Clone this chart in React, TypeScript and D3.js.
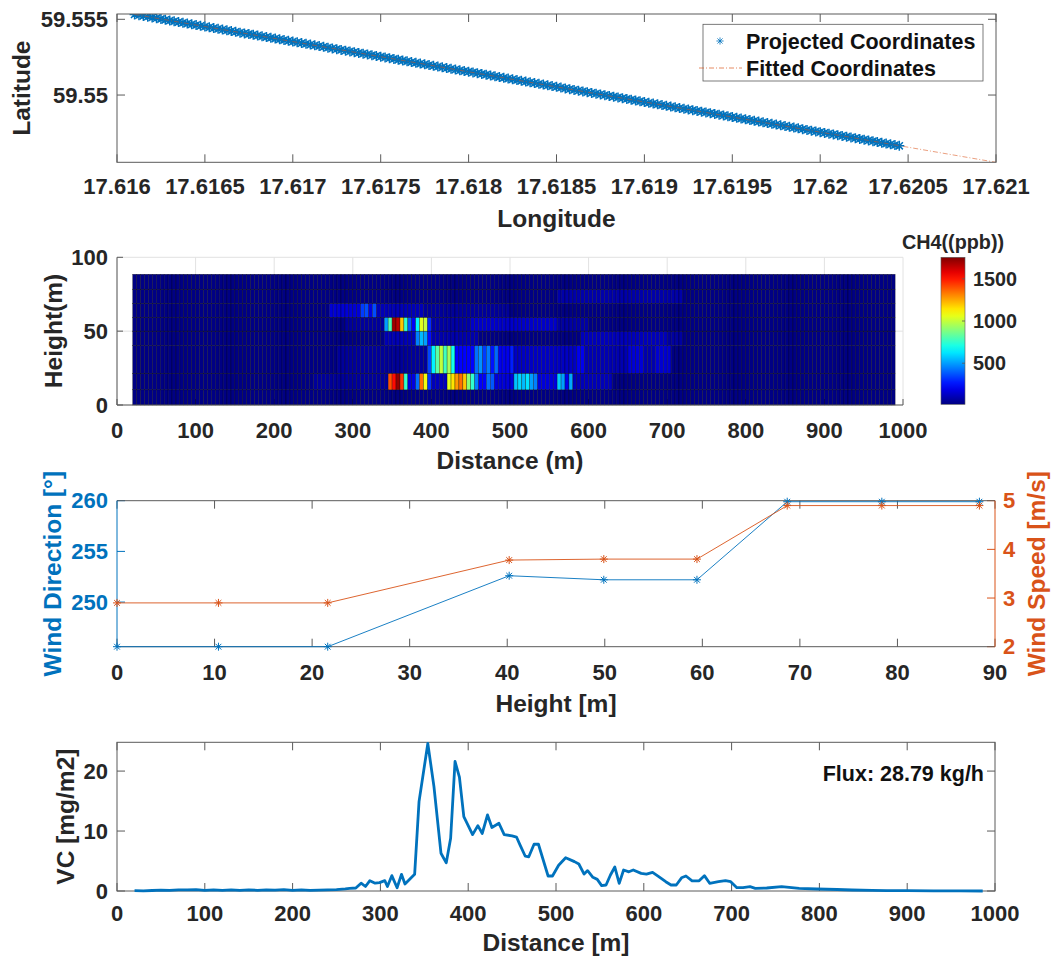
import React from 'react';
import * as d3 from 'd3';

const FONT = '"Liberation Sans", Arial, Helvetica, sans-serif';
const TXT = '#262626';
const BLUE = '#0072BD';
const ORANGE = '#D95319';
const AX = '#5a5a5a';
const TICK = 22;
const LAB = 24.5;

// ---------- Panel 1: coordinates ----------
const lonTicks = [17.616, 17.6165, 17.617, 17.6175, 17.618, 17.6185, 17.619, 17.6195, 17.62, 17.6205, 17.621];
const lonTickLabels = ['17.616', '17.6165', '17.617', '17.6175', '17.618', '17.6185', '17.619', '17.6195', '17.62', '17.6205', '17.621'];
const latTicks = [59.55, 59.555];
const latTickLabels = ['59.55', '59.555'];
// projected GPS samples (two interleaved read-outs of the dense track)
const trackLonA = [
  17.6161, 17.61615, 17.6162, 17.61625, 17.6163, 17.61635, 17.6164, 17.61645, 17.6165, 17.61655,
  17.6166, 17.61665, 17.6167, 17.61675, 17.6168, 17.61685, 17.6169, 17.61695, 17.617, 17.61705,
  17.6171, 17.61715, 17.6172, 17.61725, 17.6173, 17.61735, 17.6174, 17.61745, 17.6175, 17.61755,
  17.6176, 17.61765, 17.6177, 17.61775, 17.6178, 17.61785, 17.6179, 17.61795, 17.618, 17.61805,
  17.6181, 17.61815, 17.6182, 17.61825, 17.6183, 17.61835, 17.6184, 17.61845, 17.6185, 17.61855,
  17.6186, 17.61865, 17.6187, 17.61875, 17.6188, 17.61885, 17.6189, 17.61895, 17.619, 17.61905,
  17.6191, 17.61915, 17.6192, 17.61925, 17.6193, 17.61935, 17.6194, 17.61945, 17.6195, 17.61955,
  17.6196, 17.61965, 17.6197, 17.61975, 17.6198, 17.61985, 17.6199, 17.61995, 17.62, 17.62005,
  17.6201, 17.62015, 17.6202, 17.62025, 17.6203, 17.62035, 17.6204, 17.62045,
];
const trackLatA = [
  59.55532, 59.55522, 59.55512, 59.55502, 59.55492, 59.55482, 59.55472, 59.55462, 59.55452, 59.55442,
  59.55432, 59.55422, 59.55412, 59.55403, 59.55393, 59.55383, 59.55373, 59.55363, 59.55353, 59.55343,
  59.55333, 59.55323, 59.55313, 59.55303, 59.55293, 59.55283, 59.55273, 59.55263, 59.55253, 59.55243,
  59.55233, 59.55223, 59.55213, 59.55203, 59.55193, 59.55183, 59.55173, 59.55163, 59.55154, 59.55144,
  59.55134, 59.55124, 59.55114, 59.55104, 59.55094, 59.55084, 59.55074, 59.55064, 59.55054, 59.55044,
  59.55034, 59.55024, 59.55014, 59.55004, 59.54994, 59.54984, 59.54974, 59.54964, 59.54954, 59.54944,
  59.54934, 59.54924, 59.54914, 59.54905, 59.54895, 59.54885, 59.54875, 59.54865, 59.54855, 59.54845,
  59.54835, 59.54825, 59.54815, 59.54805, 59.54795, 59.54785, 59.54775, 59.54765, 59.54755, 59.54745,
  59.54735, 59.54725, 59.54715, 59.54705, 59.54695, 59.54685, 59.54675, 59.54665,
];
const trackLonB = [
  17.616125, 17.616175, 17.616225, 17.616275, 17.616325, 17.616375, 17.616425, 17.616475, 17.616525, 17.616575,
  17.616625, 17.616675, 17.616725, 17.616775, 17.616825, 17.616875, 17.616925, 17.616975, 17.617025, 17.617075,
  17.617125, 17.617175, 17.617225, 17.617275, 17.617325, 17.617375, 17.617425, 17.617475, 17.617525, 17.617575,
  17.617625, 17.617675, 17.617725, 17.617775, 17.617825, 17.617875, 17.617925, 17.617975, 17.618025, 17.618075,
  17.618125, 17.618175, 17.618225, 17.618275, 17.618325, 17.618375, 17.618425, 17.618475, 17.618525, 17.618575,
  17.618625, 17.618675, 17.618725, 17.618775, 17.618825, 17.618875, 17.618925, 17.618975, 17.619025, 17.619075,
  17.619125, 17.619175, 17.619225, 17.619275, 17.619325, 17.619375, 17.619425, 17.619475, 17.619525, 17.619575,
  17.619625, 17.619675, 17.619725, 17.619775, 17.619825, 17.619875, 17.619925, 17.619975, 17.620025, 17.620075,
  17.620125, 17.620175, 17.620225, 17.620275, 17.620325, 17.620375, 17.620425,
];
const trackLatB = [
  59.55527, 59.55517, 59.55507, 59.55497, 59.55487, 59.55477, 59.55467, 59.55457, 59.55447, 59.55437,
  59.55427, 59.55417, 59.55407, 59.55398, 59.55388, 59.55378, 59.55368, 59.55358, 59.55348, 59.55338,
  59.55328, 59.55318, 59.55308, 59.55298, 59.55288, 59.55278, 59.55268, 59.55258, 59.55248, 59.55238,
  59.55228, 59.55218, 59.55208, 59.55198, 59.55188, 59.55178, 59.55168, 59.55158, 59.55149, 59.55139,
  59.55129, 59.55119, 59.55109, 59.55099, 59.55089, 59.55079, 59.55069, 59.55059, 59.55049, 59.55039,
  59.55029, 59.55019, 59.55009, 59.54999, 59.54989, 59.54979, 59.54969, 59.54959, 59.54949, 59.54939,
  59.54929, 59.54919, 59.54909, 59.549, 59.5489, 59.5488, 59.5487, 59.5486, 59.5485, 59.5484,
  59.5483, 59.5482, 59.5481, 59.548, 59.5479, 59.5478, 59.5477, 59.5476, 59.5475, 59.5474,
  59.5473, 59.5472, 59.5471, 59.547, 59.5469, 59.5468, 59.5467,
];
const fitLon = [17.6161, 17.621];
const fitLat = [59.55532, 59.54556];

// ---------- Panel 2: CH4 curtain ----------
const distTicks = [0, 100, 200, 300, 400, 500, 600, 700, 800, 900, 1000];
const curtainHeightTicks = [0, 50, 100];
const curtainHeights = [0, 10.3, 21.5, 40.2, 50, 59.4, 68.8, 78.4, 88.5];
const curtainStart = 20;
const curtainEnd = 990;
const curtainStep = 5;
const ch4Background = 20;
const colorbarTicks = [500, 1000, 1500];
const ch4Range = [13, 1755];
// [row, fromDistance, toDistance, CH4 ppb]
const ch4Segments: [number, number, number, number][] = [
  [1, 250, 345, 60], [1, 345, 350, 1400], [1, 350, 355, 1520], [1, 355, 360, 1720], [1, 360, 365, 1450],
  [1, 365, 370, 750], [1, 370, 380, 180], [1, 380, 385, 420], [1, 385, 390, 1350], [1, 390, 395, 1080],
  [1, 395, 400, 320], [1, 400, 420, 120], [1, 420, 425, 1050], [1, 425, 430, 1150], [1, 430, 435, 1280],
  [1, 435, 440, 1350], [1, 440, 445, 1200], [1, 445, 450, 900], [1, 450, 455, 750], [1, 455, 460, 450],
  [1, 460, 470, 220], [1, 470, 475, 420], [1, 475, 480, 380], [1, 480, 505, 170], [1, 505, 510, 560],
  [1, 510, 515, 600], [1, 515, 520, 550], [1, 520, 525, 620], [1, 525, 530, 500], [1, 530, 535, 450],
  [1, 535, 560, 170], [1, 560, 565, 580], [1, 565, 570, 500], [1, 570, 575, 200], [1, 575, 580, 520],
  [1, 580, 630, 110],
  [2, 280, 395, 60], [2, 395, 400, 350], [2, 400, 405, 650], [2, 405, 410, 820], [2, 410, 415, 1000],
  [2, 415, 420, 780], [2, 420, 425, 950], [2, 425, 430, 700], [2, 430, 455, 230], [2, 455, 460, 420],
  [2, 460, 465, 480], [2, 465, 470, 330], [2, 470, 475, 440], [2, 475, 480, 260], [2, 480, 485, 410],
  [2, 485, 500, 200], [2, 500, 505, 280], [2, 505, 585, 130], [2, 585, 595, 200], [2, 595, 650, 100],
  [2, 650, 670, 160], [2, 670, 685, 90], [2, 685, 705, 150],
  [3, 340, 380, 110], [3, 380, 385, 450], [3, 385, 390, 550], [3, 390, 395, 500], [3, 395, 400, 250],
  [3, 400, 460, 90], [3, 590, 700, 115], [3, 700, 720, 70],
  [4, 290, 340, 60], [4, 340, 345, 500], [4, 345, 350, 800], [4, 350, 355, 1700], [4, 355, 360, 1650],
  [4, 360, 365, 1200], [4, 365, 370, 750], [4, 370, 375, 380], [4, 375, 380, 220], [4, 380, 385, 650],
  [4, 385, 390, 1050], [4, 390, 395, 1000], [4, 395, 400, 300], [4, 400, 450, 80], [4, 450, 560, 140],
  [4, 560, 600, 75],
  [5, 270, 310, 160], [5, 310, 315, 330], [5, 315, 320, 360], [5, 320, 325, 180], [5, 325, 330, 360],
  [5, 330, 390, 110], [5, 390, 500, 60],
  [6, 560, 720, 85],
];

// ---------- Panel 3: wind profile ----------
const windHeights = [0, 10.4, 21.6, 40.2, 49.9, 59.45, 68.7, 78.4, 88.4];
const windDirection = [245.6, 245.6, 245.6, 252.6, 252.2, 252.2, 259.9, 259.9, 259.9];
const windSpeed = [2.9, 2.9, 2.9, 3.78, 3.8, 3.8, 4.9, 4.9, 4.9];
const windHeightTicks = [0, 10, 20, 30, 40, 50, 60, 70, 80, 90];
const dirTicks = [250, 255, 260];
const speedTicks = [2, 3, 4, 5];

// ---------- Panel 4: vertical column ----------
const vcDistance = [
  20, 30, 40, 50, 60, 70, 80, 90, 100, 110, 120, 130, 140, 150, 160, 170, 180, 190, 200, 210, 220, 230, 240, 250, 260, 265,
  272, 278, 283, 288, 294, 299, 305, 308, 313, 319, 324, 328, 339, 344, 354, 361, 369, 375, 380, 385, 390, 395,
  405, 411, 416, 422, 427, 435, 441, 450, 455, 459, 465, 469, 475, 480, 491, 496, 503, 511, 521, 526, 532, 536,
  542, 547, 552, 557, 562, 567, 572, 577, 583, 588, 597, 603, 610, 617, 625, 631, 637, 643, 648, 655, 663, 669,
  675, 685, 693, 699, 706, 713, 721, 727, 740, 757, 777, 797, 820, 837, 860, 877, 900, 930, 960, 986,
];
const vcValue = [
  0.05, 0.03, 0.08, 0.15, 0.1, 0.2, 0.18, 0.22, 0.1, 0.18, 0.12, 0.2, 0.1, 0.18, 0.12, 0.2, 0.15, 0.22, 0.12, 0.18, 0.1, 0.15, 0.2, 0.22, 0.35, 0.45,
  0.5, 1.3, 0.75, 1.72, 1.3, 1.4, 1.72, 0.75, 2.56, 0.55, 2.78, 1.17, 2.78, 14.9, 24.6, 17.4, 6.3, 4.7, 8.8, 21.6, 19, 12.4,
  9.4, 10.9, 9.6, 12.7, 10.6, 11.3, 9.4, 9.2, 9.0, 7.7, 5.8, 5.7, 7.8, 7.8, 2.5, 2.5, 4.3, 5.55, 4.9, 4.5, 2.83, 3.4,
  2.28, 1.94, 0.9, 1.0, 2.67, 4.0, 1.28, 3.5, 3.2, 3.5, 2.94, 2.83, 3.1, 2.4, 1.55, 1.0, 1.0, 2.2, 2.5, 1.7, 1.7, 2.56,
  1.28, 1.55, 1.72, 1.55, 0.55, 0.55, 0.72, 0.45, 0.5, 0.72, 0.45, 0.33, 0.25, 0.17, 0.12, 0.06, 0.05, 0.03, 0.02, 0,
];
const vcTicks = [0, 10, 20];
const fluxLabel = 'Flux: 28.79 kg/h';

// ---------- helpers ----------
const clamp = (v: number) => Math.max(0, Math.min(1, v));
function jet(t: number) {
  t = clamp(t);
  const r = clamp(1.5 - Math.abs(4 * t - 3));
  const g = clamp(1.5 - Math.abs(4 * t - 2));
  const b = clamp(1.5 - Math.abs(4 * t - 1));
  return d3.rgb(r * 255, g * 255, b * 255).formatHex();
}
const star = (r: number) => {
  const q = r * 0.72;
  return `M${-r},0H${r}M0,${-r}V${r}M${-q},${-q}L${q},${q}M${-q},${q}L${q},${-q}`;
};

const txt = (extra: any = {}) => ({
  fontFamily: FONT,
  fontWeight: 700 as any,
  fill: TXT,
  ...extra,
});

export default function App() {
  // panel 1 scales
  const x1 = d3.scaleLinear().domain([17.616, 17.621]).range([117, 996]);
  const y1 = d3.scaleLinear().domain([59.54556, 59.55535]).range([162.3, 14]);
  const p1 = { l: 117, r: 996, t: 14, b: 162.3 };
  const trackLon = [...trackLonA, ...trackLonB];
  const trackLat = [...trackLatA, ...trackLatB];

  // panel 2 scales
  const x2 = d3.scaleLinear().domain([0, 1000]).range([117, 903]);
  const y2 = d3.scaleLinear().domain([0, 100]).range([405, 257.3]);
  const cb = d3.scaleLinear().domain(ch4Range).range([404.3, 257.3]);
  const colorOf = (v: number) => jet((v - ch4Range[0]) / (ch4Range[1] - ch4Range[0]));

  const gridDist = d3.range(curtainStart, curtainEnd + 0.1, curtainStep);
  const cells: { x: number; w: number; y: number; h: number; fill: string }[] = [];
  for (let r = 0; r < curtainHeights.length - 1; r++) {
    for (let i = 0; i < gridDist.length - 1; i++) {
      const d = gridDist[i];
      let v = ch4Background;
      for (const s of ch4Segments) if (s[0] === r && d >= s[1] && d < s[2]) v = s[3];
      const xa = x2(d), xb = x2(gridDist[i + 1]);
      const ya = y2(curtainHeights[r + 1]), yb = y2(curtainHeights[r]);
      cells.push({ x: xa, w: xb - xa, y: ya, h: yb - ya, fill: colorOf(v) });
    }
  }
  const jetStops = d3.range(0, 1.0001, 0.05);

  // panel 3 scales
  const x3 = d3.scaleLinear().domain([0, 90]).range([117, 995]);
  const yL = d3.scaleLinear().domain([245.6, 260]).range([646.7, 500.7]);
  const yR = d3.scaleLinear().domain([2, 5]).range([646.7, 500.7]);
  const p3 = { l: 117, r: 995, t: 500.7, b: 646.7 };
  const dirLine = d3.line<number>().x((_, i) => x3(windHeights[i])).y((d) => yL(d))(windDirection) || '';
  const spdLine = d3.line<number>().x((_, i) => x3(windHeights[i])).y((d) => yR(d))(windSpeed) || '';

  // panel 4 scales
  const x4 = d3.scaleLinear().domain([0, 1000]).range([117, 995]);
  const y4 = d3.scaleLinear().domain([0, 24.8]).range([891, 742.3]);
  const p4 = { l: 117, r: 995, t: 742.3, b: 891 };
  const vcLine = d3.line<number>().x((_, i) => x4(vcDistance[i])).y((d) => y4(d))(vcValue) || '';

  const fitLine = d3.line<number>().x((_, i) => x1(fitLon[i])).y((d) => y1(d))(fitLat) || '';

  const TL = 8;

  return (
    <svg width={1053} height={962} style={{ position: 'absolute', left: 0, top: 0, background: '#fff' }}>
      <defs>
        <clipPath id="c1"><rect x={p1.l} y={p1.t} width={p1.r - p1.l} height={p1.b - p1.t} /></clipPath>
        <linearGradient id="jetg" x1="0" y1="1" x2="0" y2="0">
          {jetStops.map((t) => (
            <stop key={t} offset={`${t * 100}%`} stopColor={jet(t)} />
          ))}
        </linearGradient>
      </defs>
      <rect x={0} y={0} width={1053} height={962} fill="#fff" />

      {/* ================= Panel 1 ================= */}
      <g>
        {lonTicks.map((t) => (
          <g key={'lt' + t}>
            <line x1={x1(t)} x2={x1(t)} y1={p1.b} y2={p1.b - TL} stroke={AX} strokeWidth={1} />
            <line x1={x1(t)} x2={x1(t)} y1={p1.t} y2={p1.t + TL} stroke={AX} strokeWidth={1} />
          </g>
        ))}
        {latTicks.map((t) => (
          <g key={'la' + t}>
            <line x1={p1.l} x2={p1.l + TL} y1={y1(t)} y2={y1(t)} stroke={AX} strokeWidth={1} />
            <line x1={p1.r} x2={p1.r - TL} y1={y1(t)} y2={y1(t)} stroke={AX} strokeWidth={1} />
          </g>
        ))}
        <g clipPath="url(#c1)">
          {trackLon.map((lon, i) => (
            <path key={'p' + i} d={star(5)} transform={`translate(${x1(lon)},${y1(trackLat[i])})`} stroke={BLUE} strokeWidth={1.5} fill="none" />
          ))}
          <path d={fitLine} stroke={ORANGE} strokeWidth={0.8} fill="none" strokeDasharray="5 2 1 2" opacity={0.7} />
        </g>
        <rect x={p1.l} y={p1.t} width={p1.r - p1.l} height={p1.b - p1.t} fill="none" stroke={AX} strokeWidth={1} />
        {lonTicks.map((t, i) => (
          <text key={'ll' + t} x={x1(t)} y={p1.b + 32} textAnchor="middle" style={txt({ fontSize: TICK })}>{lonTickLabels[i]}</text>
        ))}
        {latTicks.map((t, i) => (
          <text key={'al' + t} x={108} y={y1(t)} dy="0.35em" textAnchor="end" style={txt({ fontSize: TICK })}>{latTickLabels[i]}</text>
        ))}
        <text x={(p1.l + p1.r) / 2} y={227} textAnchor="middle" style={txt({ fontSize: LAB })}>Longitude</text>
        <text transform={`translate(30,${(p1.t + p1.b) / 2}) rotate(-90)`} textAnchor="middle" style={txt({ fontSize: LAB })}>Latitude</text>
        {/* legend */}
        <rect x={703} y={24.3} width={280} height={56.7} fill="#fff" stroke={AX} strokeWidth={0.8} />
        <path d={star(3.6)} transform="translate(720,41)" stroke={BLUE} strokeWidth={1} fill="none" opacity={0.8} />
        <line x1={699} x2={742} y1={68} y2={68} stroke={ORANGE} strokeWidth={0.8} strokeDasharray="5 2 1 2" opacity={0.85} />
        <text x={746} y={49} style={txt({ fontSize: 21.5, fill: '#111' })}>Projected Coordinates</text>
        <text x={746} y={76} style={txt({ fontSize: 21.5, fill: '#111' })}>Fitted Coordinates</text>
      </g>

      {/* ================= Panel 2 ================= */}
      <g>
        {distTicks.map((t) => (
          <line key={'g2x' + t} x1={x2(t)} x2={x2(t)} y1={y2(0)} y2={y2(100)} stroke="#e2e2e2" strokeWidth={1} />
        ))}
        {curtainHeightTicks.map((t) => (
          <line key={'g2y' + t} x1={x2(0)} x2={x2(1000)} y1={y2(t)} y2={y2(t)} stroke="#e2e2e2" strokeWidth={1} />
        ))}
        {distTicks.map((t) => (
          <line key={'t2x' + t} x1={x2(t)} x2={x2(t)} y1={405} y2={405 - 6} stroke={AX} strokeWidth={1} />
        ))}
        {curtainHeightTicks.map((t) => (
          <line key={'t2y' + t} x1={117} x2={117 + 6} y1={y2(t)} y2={y2(t)} stroke={AX} strokeWidth={1} />
        ))}
        {cells.map((c, i) => (
          <rect key={'c' + i} x={c.x} y={c.y} width={c.w} height={c.h} fill={c.fill} stroke="#000" strokeOpacity={0.6} strokeWidth={0.5} />
        ))}
        <line x1={117} x2={117} y1={257.3} y2={405} stroke={AX} strokeWidth={1} />
        <line x1={117} x2={903} y1={405} y2={405} stroke={AX} strokeWidth={1} />
        {distTicks.map((t) => (
          <text key={'l2x' + t} x={x2(t)} y={405 + 33} textAnchor="middle" style={txt({ fontSize: TICK })}>{t}</text>
        ))}
        {curtainHeightTicks.map((t) => (
          <text key={'l2y' + t} x={108} y={y2(t)} dy="0.35em" textAnchor="end" style={txt({ fontSize: TICK })}>{t}</text>
        ))}
        <text x={(117 + 903) / 2} y={469} textAnchor="middle" style={txt({ fontSize: LAB })}>Distance (m)</text>
        <text transform={`translate(62,331) rotate(-90)`} textAnchor="middle" style={txt({ fontSize: LAB })}>Height(m)</text>
        {/* colorbar */}
        <rect x={941} y={257.3} width={24} height={147} fill="url(#jetg)" stroke={AX} strokeWidth={0.6} />
        {colorbarTicks.map((t) => (
          <g key={'cb' + t}>
            <line x1={965} x2={962} y1={cb(t)} y2={cb(t)} stroke={AX} strokeWidth={0.8} />
            <text x={973} y={cb(t)} dy="0.35em" style={txt({ fontSize: 19.8 })}>{t}</text>
          </g>
        ))}
        <text x={953} y={249} textAnchor="middle" style={txt({ fontSize: 19.8 })}>CH4((ppb))</text>
      </g>

      {/* ================= Panel 3 ================= */}
      <g>
        {windHeightTicks.map((t) => (
          <g key={'t3' + t}>
            <line x1={x3(t)} x2={x3(t)} y1={p3.b} y2={p3.b - TL} stroke={AX} strokeWidth={1} />
            <line x1={x3(t)} x2={x3(t)} y1={p3.t} y2={p3.t + TL} stroke={AX} strokeWidth={1} />
          </g>
        ))}
        {dirTicks.map((t) => (
          <line key={'dt' + t} x1={p3.l} x2={p3.l + TL} y1={yL(t)} y2={yL(t)} stroke={BLUE} strokeWidth={1} />
        ))}
        {speedTicks.map((t) => (
          <line key={'st' + t} x1={p3.r} x2={p3.r - TL} y1={yR(t)} y2={yR(t)} stroke={ORANGE} strokeWidth={1} />
        ))}
        <line x1={p3.l} x2={p3.r} y1={p3.t} y2={p3.t} stroke={AX} strokeWidth={1} />
        <line x1={p3.l} x2={p3.r} y1={p3.b} y2={p3.b} stroke={AX} strokeWidth={1} />
        <line x1={p3.l} x2={p3.l} y1={p3.t} y2={p3.b} stroke={BLUE} strokeWidth={1} />
        <line x1={p3.r} x2={p3.r} y1={p3.t} y2={p3.b} stroke={ORANGE} strokeWidth={1} />
        <path d={dirLine} stroke={BLUE} strokeWidth={0.9} fill="none" />
        <path d={spdLine} stroke={ORANGE} strokeWidth={0.9} fill="none" />
        {windDirection.map((v, i) => (
          <path key={'wd' + i} d={star(4)} transform={`translate(${x3(windHeights[i])},${yL(v)})`} stroke={BLUE} strokeWidth={1} fill="none" />
        ))}
        {windSpeed.map((v, i) => (
          <path key={'ws' + i} d={star(4)} transform={`translate(${x3(windHeights[i])},${yR(v)})`} stroke={ORANGE} strokeWidth={1} fill="none" />
        ))}
        {windHeightTicks.map((t) => (
          <text key={'l3' + t} x={x3(t)} y={p3.b + 33} textAnchor="middle" style={txt({ fontSize: TICK })}>{t}</text>
        ))}
        {dirTicks.map((t) => (
          <text key={'dl' + t} x={108} y={yL(t)} dy="0.35em" textAnchor="end" style={txt({ fontSize: TICK, fill: BLUE })}>{t}</text>
        ))}
        {speedTicks.map((t) => (
          <text key={'sl' + t} x={1003} y={yR(t)} dy="0.35em" style={txt({ fontSize: TICK, fill: ORANGE })}>{t}</text>
        ))}
        <text x={(p3.l + p3.r) / 2} y={712} textAnchor="middle" style={txt({ fontSize: LAB })}>Height [m]</text>
        <text transform={`translate(61,${(p3.t + p3.b) / 2}) rotate(-90)`} textAnchor="middle" style={txt({ fontSize: LAB, fill: BLUE })}>Wind Direction [°]</text>
        <text transform={`translate(1045,${(p3.t + p3.b) / 2}) rotate(-90)`} textAnchor="middle" style={txt({ fontSize: LAB, fill: ORANGE })}>Wind Speed [m/s]</text>
      </g>

      {/* ================= Panel 4 ================= */}
      <g>
        {distTicks.map((t) => (
          <g key={'t4' + t}>
            <line x1={x4(t)} x2={x4(t)} y1={p4.b} y2={p4.b - TL} stroke={AX} strokeWidth={1} />
            <line x1={x4(t)} x2={x4(t)} y1={p4.t} y2={p4.t + TL} stroke={AX} strokeWidth={1} />
          </g>
        ))}
        {vcTicks.map((t) => (
          <g key={'v4' + t}>
            <line x1={p4.l} x2={p4.l + TL} y1={y4(t)} y2={y4(t)} stroke={AX} strokeWidth={1} />
            <line x1={p4.r} x2={p4.r - TL} y1={y4(t)} y2={y4(t)} stroke={AX} strokeWidth={1} />
          </g>
        ))}
        <rect x={p4.l} y={p4.t} width={p4.r - p4.l} height={p4.b - p4.t} fill="none" stroke={AX} strokeWidth={1} />
        <path d={vcLine} stroke={BLUE} strokeWidth={2.8} fill="none" strokeLinejoin="round" />
        {distTicks.map((t) => (
          <text key={'l4' + t} x={x4(t)} y={p4.b + 30} textAnchor="middle" style={txt({ fontSize: TICK })}>{t}</text>
        ))}
        {vcTicks.map((t) => (
          <text key={'vl' + t} x={108} y={y4(t)} dy="0.35em" textAnchor="end" style={txt({ fontSize: TICK })}>{t}</text>
        ))}
        <text x={(p4.l + p4.r) / 2} y={951} textAnchor="middle" style={txt({ fontSize: LAB })}>Distance [m]</text>
        <text transform={`translate(74,${(p4.t + p4.b) / 2}) rotate(-90)`} textAnchor="middle" style={txt({ fontSize: LAB })}>VC [mg/m2]</text>
        <text x={984} y={781} textAnchor="end" style={txt({ fontSize: 21.5, fill: '#111' })}>{fluxLabel}</text>
      </g>
    </svg>
  );
}
